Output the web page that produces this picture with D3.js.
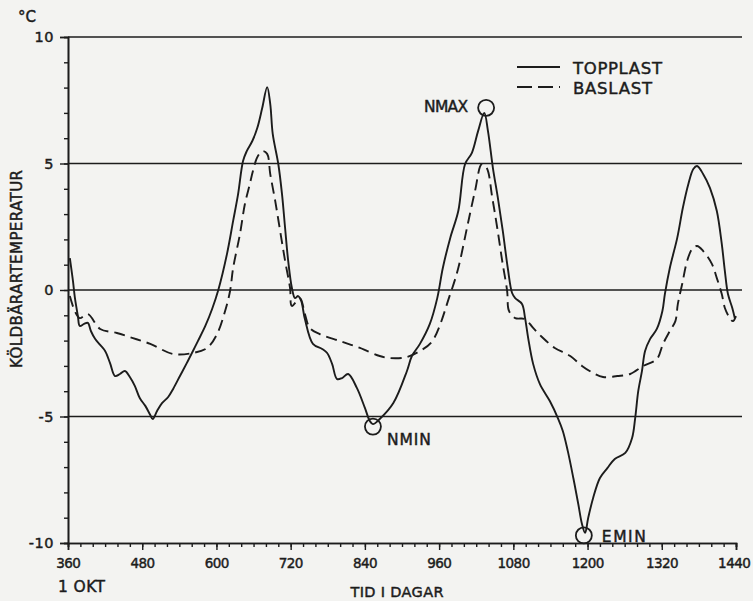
<!DOCTYPE html>
<html>
<head>
<meta charset="utf-8">
<script src="https://cdn.jsdelivr.net/npm/d3@7"></script>
<style>
  html, body { margin: 0; padding: 0; background: #f3f3f1; }
  svg { display: block; }
  text { font-family: "DejaVu Sans", sans-serif; fill: #1c1c1c; stroke: #1c1c1c; stroke-width: 0.45px; }
</style>
</head>
<body>
<svg id="chart" width="753" height="601"></svg>
<script>
// ---- data (days, °C) ----
const topDays = [363,368,371,376,379,386,392,397,404,412,420,428,436,444,452,460,468,476,485,493,497,504,512,522,530,541,552,562,570,582,593,603,617,627,635,643,649,658,666,674,682,687,691,700,706,711,716,722,727,732,737,743,756,771,779,787,795,803,813,827,840,848,853,864,886,908,916,929,945,957,966,978,991,1002,1013,1023,1033,1039,1047,1055,1063,1071,1078,1083,1094,1099,1104,1112,1123,1139,1152,1160,1168,1177,1185,1191,1196,1201,1209,1220,1232,1244,1261,1272,1277,1282,1288,1293,1301,1312,1321,1325,1333,1345,1354,1363,1371,1377,1387,1398,1409,1417,1422,1427,1434,1438];
const topValues = [1.26,0.36,-0.28,-1.03,-1.42,-1.34,-1.30,-1.62,-1.94,-2.17,-2.41,-2.89,-3.40,-3.32,-3.20,-3.44,-3.79,-4.27,-4.58,-4.94,-5.10,-4.78,-4.47,-4.23,-3.91,-3.40,-2.89,-2.41,-2.02,-1.42,-0.75,0.0,1.42,2.73,3.79,5.10,5.49,5.89,6.40,7.19,8.02,7.35,6.17,4.98,3.79,2.45,1.15,0.08,-0.32,-0.24,-0.43,-1.15,-2.13,-2.33,-2.49,-2.92,-3.52,-3.48,-3.32,-3.87,-4.66,-5.18,-5.30,-5.10,-4.47,-3.20,-2.61,-2.13,-1.34,-0.32,0.87,2.06,3.12,4.98,5.42,6.28,7.00,6.28,4.82,3.64,2.33,0.87,-0.12,-0.32,-0.55,-1.11,-1.90,-2.92,-3.72,-4.39,-5.06,-5.57,-6.36,-7.43,-8.46,-9.25,-9.60,-9.01,-8.22,-7.43,-7.04,-6.68,-6.44,-5.85,-5.06,-3.99,-3.20,-2.41,-1.94,-1.54,-0.83,-0.16,0.87,2.06,3.24,4.19,4.78,4.90,4.58,4.03,3.12,1.82,0.75,-0.16,-0.71,-1.11];

const baseDays = [363,371,379,392,412,439,465,493,530,562,585,601,614,622,627,638,646,654,659,667,675,682,687,695,703,711,719,722,735,743,751,767,800,832,864,881,908,929,949,978,991,1005,1018,1029,1037,1046,1054,1062,1070,1073,1083,1099,1112,1128,1147,1172,1191,1209,1225,1248,1269,1290,1312,1322,1333,1342,1346,1353,1361,1369,1377,1387,1401,1409,1417,1422,1430,1435,1440];
const baseValues = [-0.24,-0.83,-1.11,-0.95,-1.54,-1.70,-1.90,-2.13,-2.53,-2.49,-2.29,-1.74,-0.83,-0.04,0.87,2.21,3.40,4.19,4.70,5.30,5.49,5.38,4.58,3.52,2.33,1.15,0.08,-0.63,-0.32,-0.95,-1.50,-1.74,-2.02,-2.29,-2.61,-2.69,-2.65,-2.41,-2.02,-0.16,0.87,2.45,3.91,4.98,4.82,3.64,2.45,1.15,-0.04,-0.83,-1.11,-1.15,-1.50,-1.90,-2.29,-2.61,-3.00,-3.28,-3.44,-3.40,-3.32,-3.00,-2.73,-2.13,-1.62,-1.23,-0.55,0.24,1.15,1.62,1.74,1.54,1.03,0.47,-0.16,-0.71,-1.11,-1.23,-1.03];

const xMajorTicks = [360,480,600,720,840,960,1080,1200,1320,1440];
const yMajorTicks = [-10,-5,0,5,10];
const gridValues = [10,5,0,-5];

const markerNames = ["NMAX","NMIN","EMIN"];
const markerDays = [1036,853,1194];
const markerValues = [7.2,-5.4,-9.7];

const seriesNames = ["TOPPLAST","BASLAST"];

// ---- drawing ----
const svg = d3.select("#chart");
const ink = "#1c1c1c";

const x = d3.scaleLinear().domain([360,1440]).range([68,736]);
const y = d3.scaleLinear().domain([-10,10]).range([543,37]);

// horizontal reference lines
svg.append("g").selectAll("line").data(gridValues).join("line")
  .attr("x1", x(360)).attr("x2", 742)
  .attr("y1", d => y(d)).attr("y2", d => y(d))
  .attr("stroke", ink).attr("stroke-width", 1.5);

// y axis: minor then major
const yMinor = svg.append("g").attr("transform", `translate(${x(360)},0)`)
  .call(d3.axisLeft(y).tickValues(d3.range(-10,11,1)).tickSize(4).tickFormat(""));
const yMajor = svg.append("g").attr("transform", `translate(${x(360)},0)`)
  .call(d3.axisLeft(y).tickValues(yMajorTicks).tickSize(8).tickPadding(6).tickFormat(d => d < 0 ? "-" + Math.abs(d) : d));
// x axis
const xMinor = svg.append("g").attr("transform", `translate(0,${y(-10)})`)
  .call(d3.axisBottom(x).tickValues(d3.range(360,1441,20)).tickSize(4).tickFormat(""));
const xMajor = svg.append("g").attr("transform", `translate(0,${y(-10)})`)
  .call(d3.axisBottom(x).tickValues(xMajorTicks).tickSize(7).tickPadding(8).tickFormat(d3.format("d")));

[yMinor, yMajor, xMinor, xMajor].forEach(g => {
  g.selectAll("path.domain").attr("stroke", ink).attr("stroke-width", 1.6);
  g.selectAll(".tick line").attr("stroke", ink).attr("stroke-width", 1.4);
  g.selectAll(".tick text").attr("font-family", "DejaVu Sans, sans-serif")
    .attr("font-size", 14).attr("fill", ink);
});
yMajor.selectAll(".tick text").attr("font-size", 14.5).style("letter-spacing", "0.5px");
xMajor.selectAll(".tick text")
  .attr("font-size", 13.5)
  .attr("textLength", d => String(d).length * 8.2)
  .attr("lengthAdjust", "spacing")
  .attr("dx", d => d === 1440 ? -2 : 0);

// curves
const line = d3.line().x(d => x(d[0])).y(d => y(d[1])).curve(d3.curveCatmullRom.alpha(0.5));
const topData = topDays.map((d,i) => [d, topValues[i]]);
const baseData = baseDays.map((d,i) => [d, baseValues[i]]);

svg.append("path").datum(baseData).attr("d", line)
  .attr("fill", "none").attr("stroke", ink).attr("stroke-width", 1.9)
  .attr("stroke-dasharray", "11,6");
svg.append("path").datum(topData).attr("d", line)
  .attr("fill", "none").attr("stroke", ink).attr("stroke-width", 1.9);

// markers
const mk = svg.append("g");
markerNames.forEach((n,i) => {
  const cx = x(markerDays[i]), cy = y(markerValues[i]);
  mk.append("circle").attr("cx", cx).attr("cy", cy).attr("r", 8)
    .attr("fill", "none").attr("stroke", ink).attr("stroke-width", 1.8);
});
const mt = [
  {anchor:"end", dx:-18, dy:4},
  {anchor:"start", dx:14, dy:18},
  {anchor:"start", dx:18, dy:7}
];
markerNames.forEach((n,i) => {
  mk.append("text").attr("x", x(markerDays[i]) + mt[i].dx).attr("y", y(markerValues[i]) + mt[i].dy)
    .attr("text-anchor", mt[i].anchor).attr("font-size", 15.5)
    .attr("textLength", 44).attr("lengthAdjust", "spacing")
    .text(n);
});

// legend
const lg = svg.append("g");
seriesNames.forEach((n,i) => {
  const ly = 67 + i*20;
  lg.append("line").attr("x1", 517).attr("x2", 560).attr("y1", ly).attr("y2", ly)
    .attr("stroke", ink).attr("stroke-width", 1.9)
    .attr("stroke-dasharray", i === 1 ? "15,6" : null);
  lg.append("text").attr("x", 573).attr("y", ly + 6.5).attr("font-size", 16.5)
    .attr("textLength", i === 0 ? 89 : 79).attr("lengthAdjust", "spacing").text(n);
});

// axis titles
svg.append("text").attr("x", 18).attr("y", 22).attr("font-size", 15).text("°C");
svg.append("text").attr("transform", "translate(22,269) rotate(-90)")
  .attr("text-anchor", "middle").attr("font-size", 15)
  .attr("textLength", 198).attr("lengthAdjust", "spacing").text("KÖLDBÄRARTEMPERATUR");
svg.append("text").attr("x", 58).attr("y", 592).attr("font-size", 15.5)
  .attr("textLength", 47).attr("lengthAdjust", "spacing").text("1 OKT");
svg.append("text").attr("x", 397).attr("y", 597).attr("text-anchor", "middle").attr("font-size", 14.5)
  .attr("textLength", 93).attr("lengthAdjust", "spacing").text("TID I DAGAR");
</script>
</body>
</html>
